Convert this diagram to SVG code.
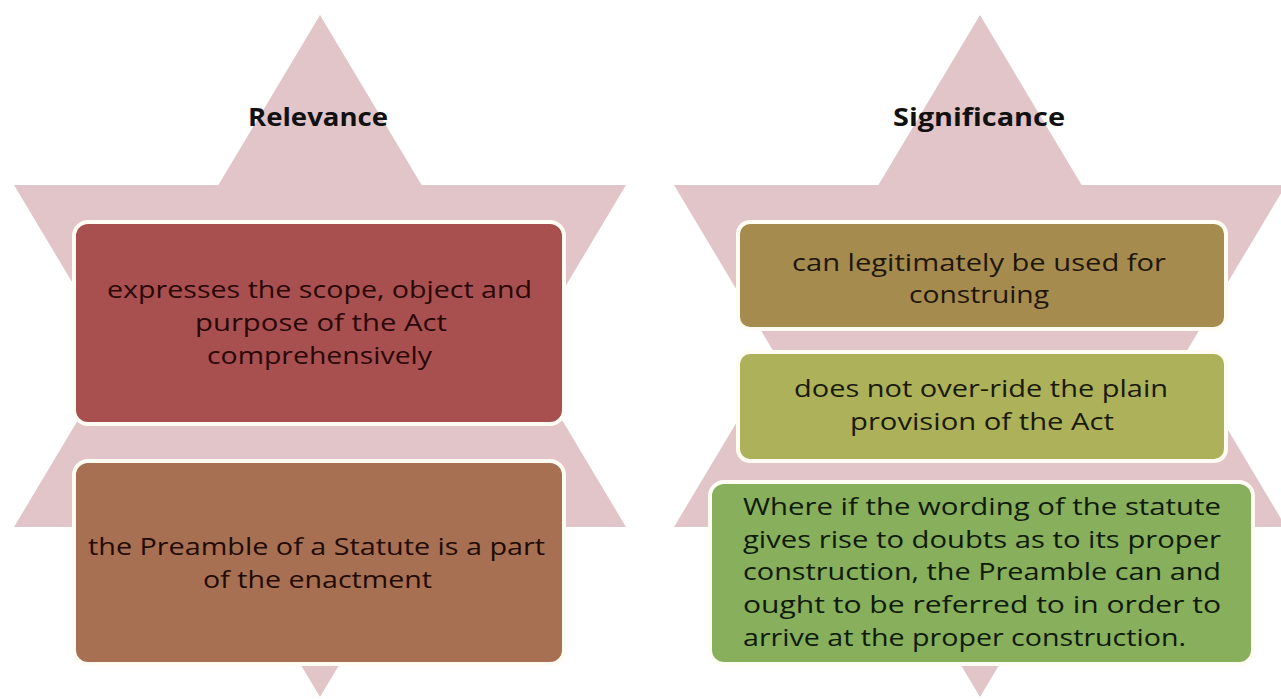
<svg xmlns="http://www.w3.org/2000/svg" width="1281" height="699" viewBox="0 0 1281 699">
  <style>
    .star { fill: #E2C5C9; }
    .box { stroke: #FFFDF3; stroke-width: 4; }
    .t { font-family: "Open Sans", "Liberation Sans", sans-serif; font-size: 23px; font-weight: 500; }
    .h { font-family: "Open Sans", "Liberation Sans", sans-serif; font-size: 25px; font-weight: 700; fill: #111111; }
  </style>
  <rect x="0" y="0" width="1281" height="699" fill="#FFFFFF"/>

  <g id="star-left">
    <polygon class="star" points="320,15 626,527 14,527"/>
    <polygon class="star" points="14,185 626,185 320,697"/>
  </g>
  <g id="star-right">
    <polygon class="star" points="980,15 1286,527 674,527"/>
    <polygon class="star" points="674,185 1286,185 980,697"/>
  </g>

  <g id="connectors"></g>

  <g id="heading-relevance">
    <text class="h" x="248" y="126" textLength="140" lengthAdjust="spacingAndGlyphs">Relevance</text>
  </g>
  <g id="heading-significance">
    <text class="h" x="893" y="126" textLength="172" lengthAdjust="spacingAndGlyphs">Significance</text>
  </g>

  <g id="rel-1">
    <rect class="box" x="74" y="222" width="490" height="202" rx="14" fill="#A8504F"/>
    <g class="t" fill="#2A0707">
      <text x="107" y="298" textLength="425" lengthAdjust="spacingAndGlyphs">expresses the scope, object and</text>
      <text x="195" y="331" textLength="252" lengthAdjust="spacingAndGlyphs">purpose of the Act</text>
      <text x="207" y="364" textLength="225" lengthAdjust="spacingAndGlyphs">comprehensively</text>
    </g>
  </g>

  <g id="rel-2">
    <rect class="box" x="74" y="461" width="490" height="203" rx="14" fill="#A87052"/>
    <g class="t" fill="#220A05">
      <text x="88" y="555" textLength="457" lengthAdjust="spacingAndGlyphs">the Preamble of a Statute is a part</text>
      <text x="203" y="588" textLength="229" lengthAdjust="spacingAndGlyphs">of the enactment</text>
    </g>
  </g>

  <g id="sig-1">
    <rect class="box" x="738" y="222" width="488" height="107" rx="12" fill="#A58B4E"/>
    <g class="t" fill="#1E1608">
      <text x="792" y="271" textLength="374" lengthAdjust="spacingAndGlyphs">can legitimately be used for</text>
      <text x="909" y="303" textLength="140" lengthAdjust="spacingAndGlyphs">construing</text>
    </g>
  </g>

  <g id="sig-2">
    <rect class="box" x="738" y="352" width="488" height="109" rx="12" fill="#ADB25A"/>
    <g class="t" fill="#1A1A08">
      <text x="794" y="397" textLength="374" lengthAdjust="spacingAndGlyphs">does not over-ride the plain</text>
      <text x="850" y="430" textLength="264" lengthAdjust="spacingAndGlyphs">provision of the Act</text>
    </g>
  </g>

  <g id="sig-3">
    <rect class="box" x="710" y="482" width="543" height="182" rx="14" fill="#87AF5C"/>
    <g class="t" fill="#0F1A08">
      <text x="743" y="515" textLength="478" lengthAdjust="spacingAndGlyphs">Where if the wording of the statute</text>
      <text x="743" y="548" textLength="478" lengthAdjust="spacingAndGlyphs">gives rise to doubts as to its proper</text>
      <text x="743" y="580" textLength="478" lengthAdjust="spacingAndGlyphs">construction, the Preamble can and</text>
      <text x="743" y="613" textLength="478" lengthAdjust="spacingAndGlyphs">ought to be referred to in order to</text>
      <text x="743" y="646" textLength="443" lengthAdjust="spacingAndGlyphs">arrive at the proper construction.</text>
    </g>
  </g>
</svg>
